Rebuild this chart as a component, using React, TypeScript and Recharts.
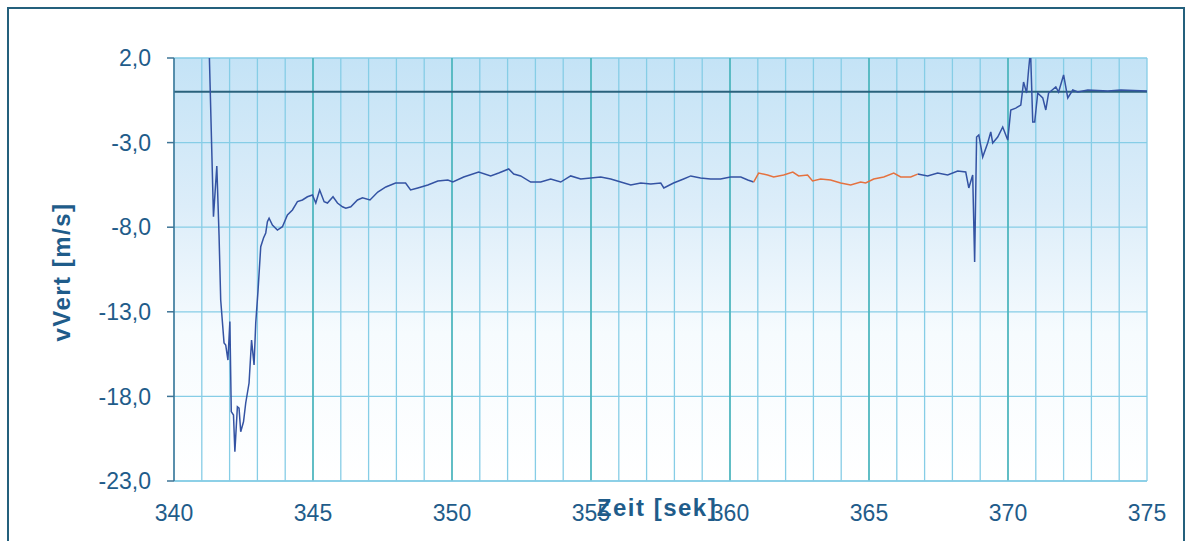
import * as React from 'react'
import { LineChart, Line, XAxis, YAxis, CartesianGrid, ReferenceLine } from 'recharts'

// time [s] and vertical speed [m/s]
const times = [
  341.25, 341.42, 341.54, 341.62, 341.68, 341.8, 341.86, 341.94, 342.01, 342.06,
  342.14, 342.19, 342.28, 342.34, 342.4, 342.5, 342.58, 342.7, 342.79, 342.88,
  342.94, 343.02, 343.12, 343.22, 343.3, 343.36, 343.42, 343.54, 343.72, 343.9,
  344.08, 344.26, 344.44, 344.62, 344.8, 344.98, 345.1, 345.24, 345.4, 345.52,
  345.72, 345.88, 346.06, 346.18, 346.36, 346.6, 346.78, 347.05, 347.33, 347.62,
  347.97, 348.33, 348.51, 348.77, 349.13, 349.49, 349.85, 350.03, 350.42, 350.96,
  351.39, 351.68, 352.04, 352.22, 352.47, 352.83, 353.19, 353.55, 353.91, 354.27,
  354.63, 354.99, 355.35, 355.71, 356.07, 356.43, 356.79, 357.15, 357.51, 357.62,
  357.97, 358.33, 358.59, 358.94, 359.3, 359.66, 360.02, 360.39, 360.64, 360.85,
  361.03, 361.35, 361.57, 361.93, 362.26, 362.47, 362.79, 362.97, 363.26, 363.62,
  363.98, 364.34, 364.7, 364.88, 365.17, 365.53, 365.89, 366.14, 366.5, 366.75,
  367.11, 367.47, 367.83, 368.19, 368.48, 368.59, 368.73, 368.8, 368.87, 368.95,
  369.09, 369.27, 369.38, 369.45, 369.63, 369.81, 369.99, 370.1, 370.28, 370.46,
  370.56, 370.67, 370.74, 370.81, 370.89, 370.96, 371.07, 371.25, 371.36, 371.46,
  371.72, 371.82, 372.0, 372.15, 372.33, 372.51, 372.87, 373.59, 374.06, 375.0,
]

const vVert = [
  3.5, -7.38, -4.38, -8.46, -12.3, -14.84, -14.96, -15.85, -13.58, -18.9,
  -19.1, -21.27, -18.61, -18.69, -20.09, -19.5, -18.39, -17.21, -14.67, -16.14,
  -13.66, -11.81, -9.15, -8.64, -8.34, -7.67, -7.47, -7.87, -8.17, -7.97,
  -7.28, -6.98, -6.49, -6.39, -6.2, -6.1, -6.57, -5.8, -6.49, -6.57,
  -6.2, -6.57, -6.79, -6.88, -6.79, -6.39, -6.26, -6.39, -5.92, -5.62,
  -5.39, -5.39, -5.8, -5.68, -5.51, -5.27, -5.21, -5.33, -5.03, -4.74,
  -4.97, -4.8, -4.56, -4.86, -4.97, -5.33, -5.33, -5.15, -5.33, -4.97,
  -5.15, -5.09, -5.03, -5.15, -5.33, -5.51, -5.39, -5.45, -5.39, -5.68,
  -5.39, -5.15, -4.97, -5.09, -5.15, -5.15, -5.03, -5.03, -5.21, -5.33,
  -4.8, -4.91, -5.03, -4.91, -4.74, -4.97, -4.91, -5.27, -5.15, -5.21,
  -5.39, -5.51, -5.33, -5.39, -5.15, -5.03, -4.8, -5.03, -5.03, -4.86,
  -4.97, -4.8, -4.91, -4.68, -4.74, -5.68, -4.91, -10.06, -2.67, -2.55,
  -3.85, -3.02, -2.37, -3.02, -2.67, -2.08, -2.85, -1.07, -0.96, -0.78,
  0.58, -0.07, 1.29, 2.47, -1.78, -1.78, -0.07, -0.36, -1.07, -0.07,
  0.29, -0.01, 1.0, -0.36, 0.11, -0.01, 0.11, 0.05, 0.11, 0.05,
]

// the red-marked stretch of the curve
const markStart = 360.85
const markEnd = 366.75

const xTicks = [340, 341, 342, 343, 344, 345, 346, 347, 348, 349, 350, 351, 352, 353, 354, 355, 356, 357, 358, 359, 360, 361, 362, 363, 364, 365, 366, 367, 368, 369, 370, 371, 372, 373, 374, 375]
const majorX = [345, 350, 355, 360, 365, 370]
const yTicks = [-23, -18, -13, -8, -3, 2]

const data = times.map((t, i) => ({
  t,
  main: t <= markStart || t >= markEnd ? vVert[i] : null,
  mark: t >= markStart && t <= markEnd ? vVert[i] : null,
}))

const textBlue = '#1f5c8a'
const font = '"Liberation Sans", Arial, sans-serif'

export default function App() {
  return (
    <div style={{ position: 'absolute', left: 0, top: 0, width: 1188, height: 541, background: '#fff', overflow: 'hidden', fontFamily: font }}>
      <div style={{ position: 'absolute', left: 7, top: 7, width: 1174, height: 545, border: '2px solid #24607c' }} />
      <LineChart width={1188} height={541} data={data} margin={{ top: 58, right: 41, bottom: 0, left: 114 }}>
        <defs>
          <linearGradient id="bg" x1="0" y1="0" x2="0" y2="1">
            <stop offset="0%" stopColor="#c4e3f6" />
            <stop offset="35%" stopColor="#dcedf9" />
            <stop offset="65%" stopColor="#f6fbfe" />
            <stop offset="100%" stopColor="#ffffff" />
          </linearGradient>
        </defs>
        <CartesianGrid stroke="#86cde6" strokeWidth={1.3} fill="url(#bg)" fillOpacity={1} />
        <XAxis
          dataKey="t"
          type="number"
          domain={[340, 375]}
          ticks={xTicks}
          interval={0}
          allowDataOverflow
          tickFormatter={(v: number) => (v % 5 === 0 ? String(v) : '')}
          tick={{ fill: textBlue, fontSize: 23, fontFamily: font }}
          tickLine={false}
          tickSize={0}
          tickMargin={24}
          height={60}
          axisLine={{ stroke: '#86cde6', strokeWidth: 1.3 }}
        />
        <YAxis
          type="number"
          domain={[-23, 2]}
          ticks={yTicks}
          interval={0}
          allowDataOverflow
          tickFormatter={(v: number) => v.toFixed(1).replace('.', ',')}
          tick={{ fill: textBlue, fontSize: 23, fontFamily: font }}
          tickLine={{ stroke: '#3d7496', strokeWidth: 1.5 }}
          tickSize={7}
          tickMargin={16}
          width={60}
          axisLine={{ stroke: '#3d7496', strokeWidth: 1.5 }}
        />
        {majorX.map((x) => (
          <ReferenceLine key={x} x={x} stroke="#3fb0b4" strokeWidth={1.4} />
        ))}
        <ReferenceLine y={0} stroke="#2a627c" strokeWidth={2} />
        <Line dataKey="main" stroke="#3453a3" strokeWidth={1.5} dot={false} isAnimationActive={false} type="linear" />
        <Line dataKey="mark" stroke="#e5723f" strokeWidth={1.5} dot={false} isAnimationActive={false} type="linear" />
      </LineChart>
      <div
        style={{
          position: 'absolute', left: 62, top: 272, transform: 'translate(-50%, -50%) rotate(-90deg)',
          whiteSpace: 'nowrap', fontWeight: 'bold', fontSize: 24, letterSpacing: 1.5, color: textBlue, lineHeight: 1,
        }}
      >
        vVert [m/s]
      </div>
      <div
        style={{
          position: 'absolute', left: 657, top: 508, transform: 'translate(-50%, -50%)',
          whiteSpace: 'nowrap', fontWeight: 'bold', fontSize: 24, letterSpacing: 1.5, color: textBlue, lineHeight: 1,
        }}
      >
        Zeit [sek]
      </div>
    </div>
  )
}
